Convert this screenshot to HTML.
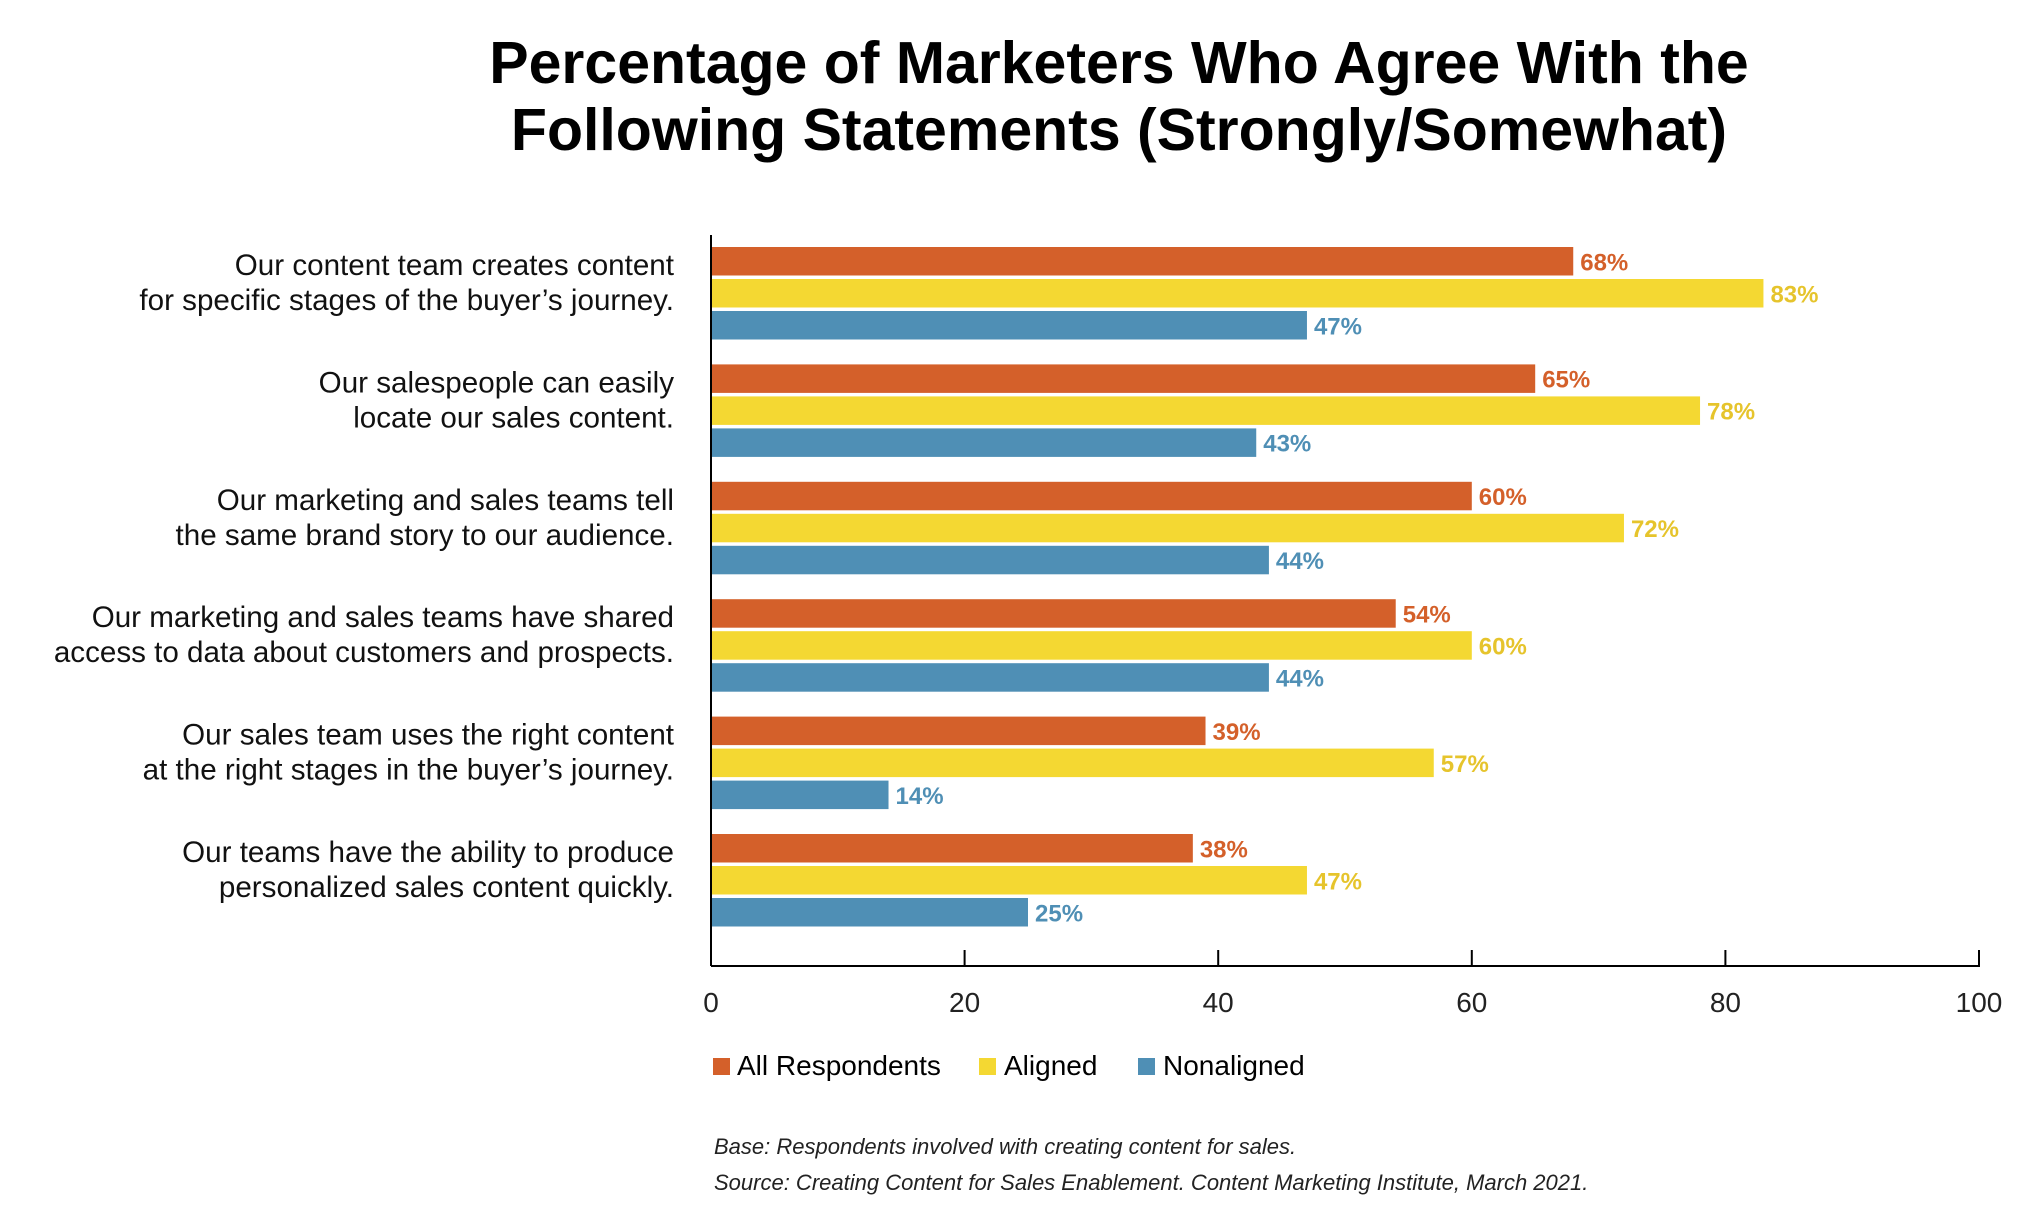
<!DOCTYPE html>
<html><head><meta charset="utf-8"><style>
body{margin:0;background:#fff;width:2028px;height:1226px;overflow:hidden;font-family:"Liberation Sans",sans-serif}
svg{display:block}
</style></head><body>
<svg width="2028" height="1226">
<text x="1119" y="83" text-anchor="middle" font-size="59" font-weight="bold" fill="#000">Percentage of Marketers Who Agree With the</text>
<text x="1119" y="150" text-anchor="middle" font-size="59" font-weight="bold" fill="#000">Following Statements (Strongly/Somewhat)</text>
<g id="bars"></g>
<g id="axis"></g>
<g>
<rect x="713" y="1058" width="17" height="17" fill="#d4602a"/>
<text x="737" y="1075" font-size="28">All Respondents</text>
<rect x="979" y="1058" width="17" height="17" fill="#f4d832"/>
<text x="1004" y="1075" font-size="28">Aligned</text>
<rect x="1138" y="1058" width="17" height="17" fill="#4f8fb5"/>
<text x="1163" y="1075" font-size="28">Nonaligned</text>
</g>
<text x="714" y="1154" font-size="22" font-style="italic" fill="#222">Base: Respondents involved with creating content for sales.</text>
<text x="714" y="1190" font-size="22" font-style="italic" fill="#222">Source: Creating Content for Sales Enablement. Content Marketing Institute, March 2021.</text>
</svg>
<script>
const categories=[["Our content team creates content","for specific stages of the buyer’s journey."],["Our salespeople can easily","locate our sales content."],["Our marketing and sales teams tell","the same brand story to our audience."],["Our marketing and sales teams have shared","access to data about customers and prospects."],["Our sales team uses the right content","at the right stages in the buyer’s journey."],["Our teams have the ability to produce","personalized sales content quickly."]];
const allRespondents=[68,65,60,54,39,38];
const aligned=[83,78,72,60,57,47];
const nonaligned=[47,43,44,44,14,25];
const ticks=[0,20,40,60,80,100];
const NS="http://www.w3.org/2000/svg";
const x0=711,x1=1979,yTop=235,yBot=966;
const xs=v=>x0+(x1-x0)*v/100;
const groupY=i=>247+i*117.4;
const bh=28.5,step=32;
const series=[{d:allRespondents,c:"#d4602a",t:"#d4602a",n:"all"},{d:aligned,c:"#f4d832",t:"#e6c42c",n:"aligned"},{d:nonaligned,c:"#4f8fb5",t:"#4f8fb5",n:"nonaligned"}];
const bars=document.getElementById("bars");
function mk(tag,attrs,parent){const e=document.createElementNS(NS,tag);for(const k in attrs)e.setAttribute(k,attrs[k]);parent.appendChild(e);return e;}
categories.forEach((cat,i)=>{
  const gy=groupY(i);
  series.forEach((s,j)=>{
    const y=gy+j*step;
    const r=mk("rect",{x:x0,y:y,width:xs(s.d[i])-x0,height:bh,fill:s.c},bars);
    
    
    const t=mk("text",{x:xs(s.d[i])+7,y:y+bh/2+9,"font-size":24,"font-weight":"bold",fill:s.t},bars);
    t.textContent=s.d[i]+"%";
    
    
  });
  cat.forEach((line,k)=>{
    const t=mk("text",{x:674,y:gy+28+k*35,"text-anchor":"end","font-size":29.6,fill:"#111"},bars);
    t.textContent=line;
    
    
  });
});
const ax=document.getElementById("axis");
const yl=mk("line",{x1:x0,y1:yTop,x2:x0,y2:yBot,stroke:"#000","stroke-width":2},ax);


const xl=mk("line",{x1:x0,y1:yBot,x2:x1+1,y2:yBot,stroke:"#000","stroke-width":2},ax);


ticks.forEach(v=>{
  const l=mk("line",{x1:xs(v),y1:yBot-16,x2:xs(v),y2:yBot,stroke:"#000","stroke-width":2},ax);
  
  
  const t=mk("text",{x:xs(v),y:1012,"text-anchor":"middle","font-size":28,fill:"#222"},ax);
  t.textContent=v;
  
  
});
</script>
</body></html>
